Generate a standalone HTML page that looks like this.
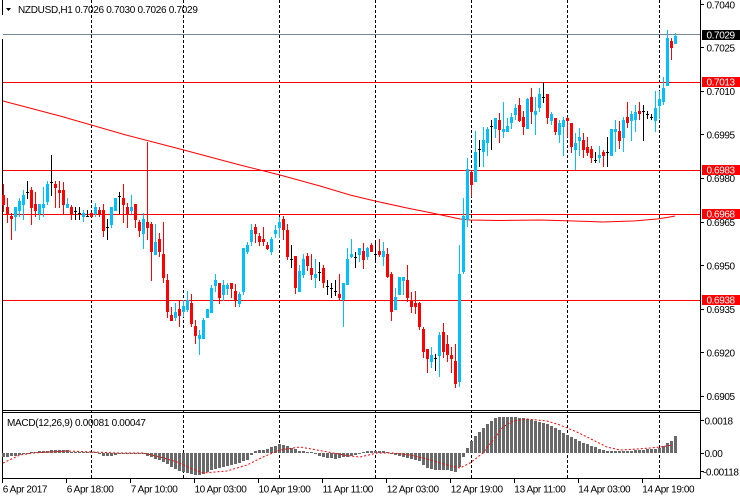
<!DOCTYPE html>
<html><head><meta charset="utf-8"><style>
html,body{margin:0;padding:0;background:#fff;}
svg{display:block;}
text{font-family:"Liberation Sans",sans-serif;font-size:10px;letter-spacing:-0.4px;fill:#000;}
</style></head><body>
<svg width="740" height="500" viewBox="0 0 740 500" xmlns="http://www.w3.org/2000/svg">
<rect width="740" height="500" fill="#fff"/>
<!-- grid -->
<g stroke="#000" stroke-width="1" stroke-dasharray="3,2" shape-rendering="crispEdges">
<path d="M91.5 0V479M183.5 0V479M279.5 0V479M375.5 0V479M471.5 0V479M567.5 0V479M659.5 0V479"/>
</g>
<!-- frames -->
<g stroke="#000" stroke-width="1" shape-rendering="crispEdges" fill="none">
<path d="M2.5 0V15M2.5 39V479M700.5 0V479M2 410.5H701M2 412.5H701M2 478.5H701"/>
</g>
<!-- level lines -->
<g shape-rendering="crispEdges" stroke-width="1" fill="none">
<path d="M3 82.5H700M3 170.5H700M3 214.5H700M3 300.5H700" stroke="#ff0000"/>
<path d="M3 34.5H700" stroke="#778899"/>
</g>
<!-- moving average -->
<polyline fill="none" stroke="#ff0000" stroke-width="1" points="3,101 60,116 126,135 180,149 240,165 280,175 320,186 350,195 375,201 407,208 432,213 460,219 470,220 500,220.5 540,220 590,221.5 602,222 633,221 657,219 667,217.5 675,216"/>
<!-- candles -->
<g shape-rendering="crispEdges" fill="none">
<path stroke="#00bfff" stroke-width="1" d="M15.5 207V231M19.5 198V217M23.5 190V220M39.5 204V220M43.5 187V217M47.5 181V205M67.5 198V208M83.5 210V222M95.5 203V217M111.5 207V228M115.5 198V211M131.5 195V214M143.5 213V249M155.5 224V255M175.5 303V321M183.5 300V317M187.5 291V312M199.5 330V355M203.5 318V339M207.5 309V318M211.5 285V313M215.5 274V292M223.5 280V301M227.5 283V295M239.5 292V307M243.5 248V295M247.5 242V254M251.5 224V246M271.5 237V255M275.5 225V238M279.5 217V238M299.5 265V292M303.5 254V278M315.5 259V288M343.5 283V327M347.5 248V285M351.5 239V258M359.5 248V262M367.5 247V260M383.5 242V266M395.5 288V310M399.5 277V295M403.5 277V295M431.5 347V368M439.5 332V377M459.5 245V387M463.5 198V274M467.5 158V227M475.5 131V182M483.5 127V167M487.5 127V156M495.5 118V138M503.5 102V138M507.5 118V132M511.5 113V129M515.5 104V120M527.5 98V129M535.5 97V135M539.5 88V112M551.5 112V125M559.5 120V143M563.5 117V156M575.5 133V170M579.5 128V156M599.5 146V163M611.5 129V156M615.5 120V152M623.5 117V152M631.5 111V141M635.5 105V132M655.5 91V132M659.5 91V119M663.5 77V105M667.5 30V86M675.5 33V44"/>
<path stroke="#00bfff" stroke-width="3" d="M15.5 207V217M19.5 201V211M23.5 195V205M39.5 204V214M43.5 204V208M47.5 184V202M67.5 204V208M83.5 213V217M95.5 207V214M111.5 207V225M115.5 198V211M131.5 207V211M143.5 219V234M155.5 242V255M175.5 312V318M183.5 306V312M187.5 300V310M199.5 335V339M203.5 320V339M207.5 309V318M211.5 288V313M215.5 280V286M223.5 285V295M227.5 285V289M239.5 294V304M243.5 248V292M247.5 245V252M251.5 230V242M271.5 239V252M275.5 230V234M279.5 222V228M299.5 271V292M303.5 259V275M315.5 274V278M343.5 283V300M347.5 259V285M351.5 254V257M359.5 248V255M367.5 248V257M383.5 251V257M395.5 297V310M399.5 277V295M403.5 277V281M431.5 355V362M439.5 335V356M459.5 274V382M463.5 216V272M467.5 169V220M475.5 152V182M483.5 140V152M487.5 129V143M495.5 118V129M503.5 129V132M507.5 126V132M511.5 117V123M515.5 108V115M527.5 99V129M535.5 111V115M539.5 94V108M551.5 114V121M559.5 123V135M563.5 120V127M575.5 143V150M579.5 137V141M599.5 155V158M611.5 129V156M615.5 129V132M623.5 120V138M631.5 114V121M635.5 112V120M655.5 108V121M659.5 99V106M663.5 88V102M667.5 38V86M675.5 36V44"/>
<path stroke="#ff0000" stroke-width="1" d="M3.5 184V212M7.5 198V223M11.5 213V240M31.5 187V225M35.5 192V217M55.5 181V208M59.5 181V208M63.5 182V214M71.5 205V220M91.5 212V217M99.5 207V217M103.5 204V237M123.5 184V223M127.5 203V228M135.5 204V228M139.5 220V237M147.5 142V240M151.5 222V281M159.5 233V257M163.5 222V283M167.5 274V318M171.5 307V321M179.5 300V327M191.5 294V327M195.5 320V344M219.5 283V304M231.5 283V298M235.5 284V307M255.5 224V243M259.5 233V246M263.5 227V246M267.5 242V250M283.5 216V240M287.5 224V260M295.5 256V294M307.5 253V271M311.5 254V280M323.5 265V288M339.5 274V300M363.5 243V269M371.5 243V252M379.5 239V257M387.5 248V278M391.5 272V321M407.5 265V302M411.5 292V313M415.5 291V314M419.5 302V330M423.5 327V358M427.5 349V373M443.5 323V358M447.5 335V362M451.5 347V373M455.5 344V388M471.5 170V197M499.5 113V143M519.5 98V122M523.5 111V135M531.5 88V124M547.5 94V124M555.5 118V135M567.5 117V137M571.5 123V153M583.5 133V158M587.5 137V156M591.5 146V163M603.5 150V167M619.5 121V149M627.5 102V128M639.5 102V120M671.5 38V60"/>
<path stroke="#ff0000" stroke-width="3" d="M3.5 195V205M7.5 207V214M11.5 216V219M31.5 190V208M35.5 204V211M55.5 184V188M59.5 190V193M63.5 190V205M71.5 207V214M91.5 213V217M99.5 210V214M103.5 210V231M123.5 198V205M127.5 207V214M135.5 204V220M139.5 222V231M147.5 222V228M151.5 224V252M159.5 239V252M163.5 254V278M167.5 280V312M171.5 315V321M179.5 309V316M191.5 303V324M195.5 326V336M219.5 283V298M231.5 283V289M235.5 291V300M255.5 227V234M259.5 236V242M263.5 239V242M267.5 245V249M283.5 219V230M287.5 230V257M295.5 256V288M307.5 256V266M311.5 268V275M323.5 268V283M339.5 294V298M363.5 251V260M371.5 245V252M379.5 251V255M387.5 254V277M391.5 274V312M407.5 280V298M411.5 300V307M415.5 303V307M419.5 303V327M423.5 329V352M427.5 349V359M443.5 332V352M447.5 344V355M451.5 355V359M455.5 361V384M471.5 172V185M499.5 120V130M519.5 105V121M523.5 117V127M531.5 97V112M547.5 94V118M555.5 118V132M567.5 118V121M571.5 123V147M583.5 140V150M587.5 147V153M591.5 149V158M603.5 152V156M619.5 131V141M627.5 117V123M639.5 111V114M671.5 41V48"/>
<path stroke="#000" stroke-width="1" d="M27.5 181V199M51.5 155V196M75.5 207V220M79.5 207V220M87.5 210V217M107.5 219V240M119.5 192V214M291.5 245V268M319.5 262V281M327.5 280V295M331.5 283V298M335.5 280V296M355.5 252V268M375.5 242V262M435.5 354V371M479.5 140V167M491.5 120V150M543.5 82V103M595.5 152V163M607.5 137V167M643.5 105V141M647.5 111V119M651.5 114V120M26 192.5h3M50 182.5h3M74 211.5h3M78 213.5h3M86 216.5h3M106 227.5h3M118 196.5h3M290 259.5h3M318 272.5h3M326 286.5h3M330 288.5h3M334 291.5h3M354 257.5h3M374 254.5h3M434 358.5h3M478 149.5h3M490 126.5h3M542 97.5h3M594 160.5h3M606 152.5h3M642 111.5h3M646 114.5h3M650 117.5h3"/>
</g>
<!-- MACD histogram -->
<path shape-rendering="crispEdges" fill="none" stroke="#696969" stroke-width="3" d="M3.5 453V457M7.5 453V457M11.5 453V456M15.5 453V456M19.5 453V455M23.5 453V454M27.5 453V454M31.5 452V453M35.5 452V453M39.5 451V453M43.5 451V453M47.5 451V453M51.5 450V453M55.5 450V453M59.5 450V453M63.5 450V453M67.5 450V453M71.5 452V453M75.5 452V453M79.5 452V453M83.5 452V453M87.5 452V453M91.5 452V453M95.5 452V453M99.5 453V454M103.5 453V456M107.5 453V456M111.5 453V456M115.5 453V455M119.5 453V454M123.5 453V454M127.5 453V454M131.5 453V454M135.5 453V454M139.5 453V454M143.5 453V454M147.5 453V456M151.5 453V457M155.5 453V459M159.5 453V460M163.5 453V462M167.5 453V464M171.5 453V467M175.5 453V469M179.5 453V471M183.5 453V472M187.5 453V473M191.5 453V474M195.5 453V475M199.5 453V475M203.5 453V474M207.5 453V472M211.5 453V470M215.5 453V469M219.5 453V468M223.5 453V467M227.5 453V466M231.5 453V465M235.5 453V464M239.5 453V463M243.5 453V461M247.5 453V460M251.5 453V455M255.5 451V453M259.5 450V453M263.5 450V453M267.5 449V453M271.5 447V453M275.5 446V453M279.5 444V453M283.5 445V453M287.5 446V453M291.5 448V453M295.5 449V453M299.5 451V453M303.5 451V453M307.5 452V453M311.5 452V453M315.5 453V454M319.5 453V456M323.5 453V457M327.5 453V458M331.5 453V458M335.5 453V459M339.5 453V458M343.5 453V457M347.5 453V457M351.5 453V456M355.5 453V455M359.5 453V454M363.5 452V453M367.5 451V453M371.5 451V453M375.5 451V453M379.5 451V453M383.5 451V453M387.5 452V453M391.5 453V454M395.5 453V455M399.5 453V456M403.5 453V457M407.5 453V458M411.5 453V459M415.5 453V460M419.5 453V461M423.5 453V465M427.5 453V468M431.5 453V469M435.5 453V470M439.5 453V470M443.5 453V470M447.5 453V470M451.5 453V471M455.5 453V472M459.5 453V467M463.5 453V457M467.5 448V453M471.5 441V453M475.5 436V453M479.5 432V453M483.5 428V453M487.5 424V453M491.5 421V453M495.5 418V453M499.5 417V453M503.5 417V453M507.5 417V453M511.5 417V453M515.5 417V453M519.5 418V453M523.5 418V453M527.5 419V453M531.5 420V453M535.5 421V453M539.5 422V453M543.5 423V453M547.5 424V453M551.5 426V453M555.5 428V453M559.5 430V453M563.5 433V453M567.5 435V453M571.5 437V453M575.5 439V453M579.5 441V453M583.5 443V453M587.5 444V453M591.5 446V453M595.5 447V453M599.5 449V453M603.5 450V453M607.5 451V453M611.5 451V453M615.5 451V453M619.5 451V453M623.5 451V453M627.5 451V453M631.5 451V453M635.5 450V453M639.5 450V453M643.5 450V453M647.5 449V453M651.5 449V453M655.5 449V453M659.5 448V453M663.5 446V453M667.5 443V453M671.5 441V453M675.5 436V453"/>
<!-- MACD signal -->
<polyline fill="none" stroke="#ff0000" stroke-width="1" stroke-dasharray="2,2" points="3,463 20,455 33,453 67,451 93,452 117,453 143,453 160,457 177,462 190,468 203,473 227,471 247,465 263,457 280,450 300,447 317,450 333,453 350,456 360,457 377,453 393,453 410,455 427,459 447,465 460,468 470,463 483,453 493,440 503,427 513,421 527,419 547,421 560,425 577,432 593,440 607,447 620,450 637,449 650,448 660,447 672,445"/>
<!-- right axis ticks -->
<path shape-rendering="crispEdges" stroke="#000" stroke-width="1" d="M701 4.5h3M701 47.5h3M701 91.5h3M701 134.5h3M701 178.5h3M701 222.5h3M701 265.5h3M701 309.5h3M701 352.5h3M701 396.5h3M701 420.5h3M701 453.5h3M701 471.5h3M2.5 479v4M66.5 479v4M130.5 479v4M194.5 479v4M258.5 479v4M322.5 479v4M386.5 479v4M450.5 479v4M514.5 479v4M578.5 479v4M642.5 479v4"/>
<!-- right axis labels -->
<text x="706.5" y="8.5">0.7040</text>
<text x="706.5" y="51.5">0.7025</text>
<text x="706.5" y="95">0.7010</text>
<text x="706.5" y="138.5">0.6995</text>
<text x="706.5" y="182">0.6980</text>
<text x="706.5" y="226">0.6965</text>
<text x="706.5" y="269.5">0.6950</text>
<text x="706.5" y="313">0.6935</text>
<text x="706.5" y="356.5">0.6920</text>
<text x="706.5" y="400">0.6905</text>
<rect x="702" y="30" width="38" height="10" fill="#000"/>
<text x="706.5" y="38.5" style="fill:#fff">0.7029</text>
<rect x="702" y="77" width="38" height="10" fill="#ff0000"/>
<text x="706.5" y="85.5" style="fill:#fff">0.7013</text>
<rect x="702" y="165" width="38" height="10" fill="#ff0000"/>
<text x="706.5" y="173.5" style="fill:#fff">0.6983</text>
<rect x="702" y="209" width="38" height="10" fill="#ff0000"/>
<text x="706.5" y="217.5" style="fill:#fff">0.6968</text>
<rect x="702" y="295" width="38" height="10" fill="#ff0000"/>
<text x="706.5" y="303.5" style="fill:#fff">0.6938</text>
<text x="704.5" y="424.5">0.0018</text>
<text x="704.5" y="457">0.00</text>
<text x="703" y="475.5">-0.00118</text>
<!-- header -->
<polygon points="6,8 11,8 8.5,11" fill="#000"/>
<text x="18" y="13" style="letter-spacing:-0.3px">NZDUSD,H1  0.7026 0.7030 0.7026 0.7029</text>
<text x="7" y="426" style="letter-spacing:-0.3px">MACD(12,26,9) 0.00081 0.00047</text>
<!-- time axis -->
<text x="2.7" y="492.5">6 Apr 2017</text>
<text x="66.7" y="492.5">6 Apr 18:00</text>
<text x="130.7" y="492.5">7 Apr 10:00</text>
<text x="194.5" y="492.5">10 Apr 03:00</text>
<text x="258.5" y="492.5">10 Apr 19:00</text>
<text x="322.5" y="492.5">11 Apr 11:00</text>
<text x="386.7" y="492.5">12 Apr 03:00</text>
<text x="450.7" y="492.5">12 Apr 19:00</text>
<text x="514.3" y="492.5">13 Apr 11:00</text>
<text x="578.3" y="492.5">14 Apr 03:00</text>
<text x="642.3" y="492.5">14 Apr 19:00</text>
</svg>
</body></html>
